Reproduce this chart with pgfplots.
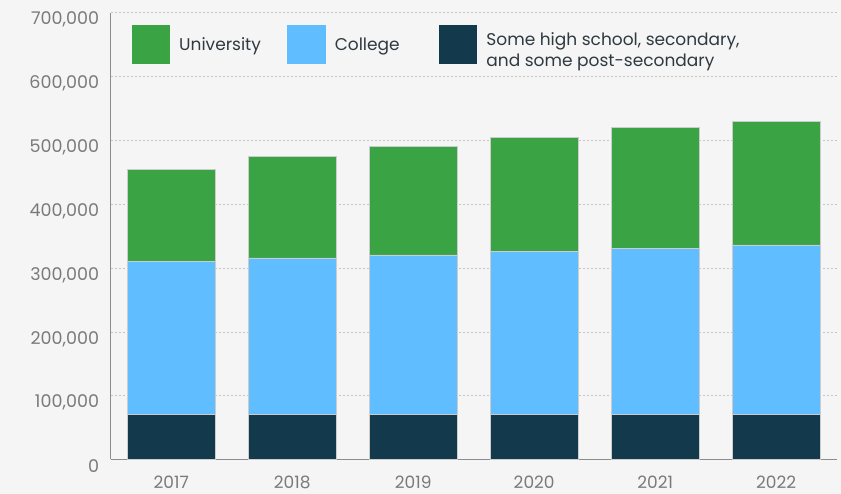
\documentclass[border=0pt]{standalone}
\usepackage{fontspec}
\setmainfont{Poppins}
\usepackage{pgfplots}
\pgfplotsset{compat=1.18}
\definecolor{bg}{HTML}{F5F5F5}
\definecolor{uni}{HTML}{3AA445}
\definecolor{col}{HTML}{60BDFF}
\definecolor{hs}{HTML}{12394C}
\definecolor{ticktext}{HTML}{7A7A7A}
\definecolor{legtext}{HTML}{2E3A40}
\begin{document}
\begin{tikzpicture}
\path[use as bounding box, fill=bg] (-110.7pt,-34.5pt) rectangle (730.3pt,459.5pt);
\begin{axis}[
  at={(0pt,0pt)}, anchor=south west,
  width=726pt, height=446.8pt, scale only axis,
  xmin=-0.5, xmax=5.5, ymin=0, ymax=700000,
  ybar stacked, bar width=0.72,
  xtick={0,1,2,3,4,5},
  xticklabels={2017,2018,2019,2020,2021,2022},
  ytick={0,100000,200000,300000,400000,500000,600000,700000},
  yticklabels={0,{100,000},{200,000},{300,000},{400,000},{500,000},{600,000},{700,000}},
  scaled y ticks=false,
  axis x line*=bottom, axis y line*=left,
  axis line style={-, draw=black!45, line width=0.8pt},
  major tick length=0pt,
  ymajorgrids, grid style={draw=black!22, dash pattern=on 2pt off 2pt, line width=0.5pt},
  yticklabel style={font=\fontsize{17.5}{17.5}\selectfont, text=ticktext, anchor=east, inner sep=0pt, xshift=-11.5pt, yshift=-7pt},
  xticklabel style={font=\fontsize{17}{17}\selectfont, text=ticktext, anchor=north, inner sep=0pt, yshift=-16.5pt},
  legend columns=3,
  legend style={at={(0.0244,0.9767)}, anchor=north west, draw=none, fill=none,
    font=\fontsize{17}{21}\selectfont, text=legtext,
    nodes={inner sep=0pt},
    /tikz/every odd column/.append style={column sep=9pt}},
  legend image code/.code={\fill[#1, draw=none] (0pt,-19.3pt) rectangle (38.6pt,19.3pt);},
]
\addlegendimage{fill=uni, draw=none}
\addlegendentry{\makebox[108pt][l]{University}}
\addlegendimage{fill=col, draw=none}
\addlegendentry{\makebox[104pt][l]{College}}
\addlegendimage{fill=hs, draw=none}
\addlegendentry{\begin{tabular}{@{}l@{}}Some high school, secondary,\\and some post-secondary\end{tabular}}
\addplot[fill=hs, draw=black!20, line width=0.5pt, forget plot] coordinates {(0,71000) (1,71000) (2,71000) (3,71000) (4,71000) (5,71000)};
\addplot[fill=col, draw=black!20, line width=0.5pt, forget plot] coordinates {(0,239600) (1,244800) (2,249500) (3,254800) (4,260000) (5,265200)};
\addplot[fill=uni, draw=black!20, line width=0.5pt, forget plot] coordinates {(0,144400) (1,159200) (2,169600) (3,178900) (4,188900) (5,193500)};
\end{axis}
\end{tikzpicture}
\end{document}
